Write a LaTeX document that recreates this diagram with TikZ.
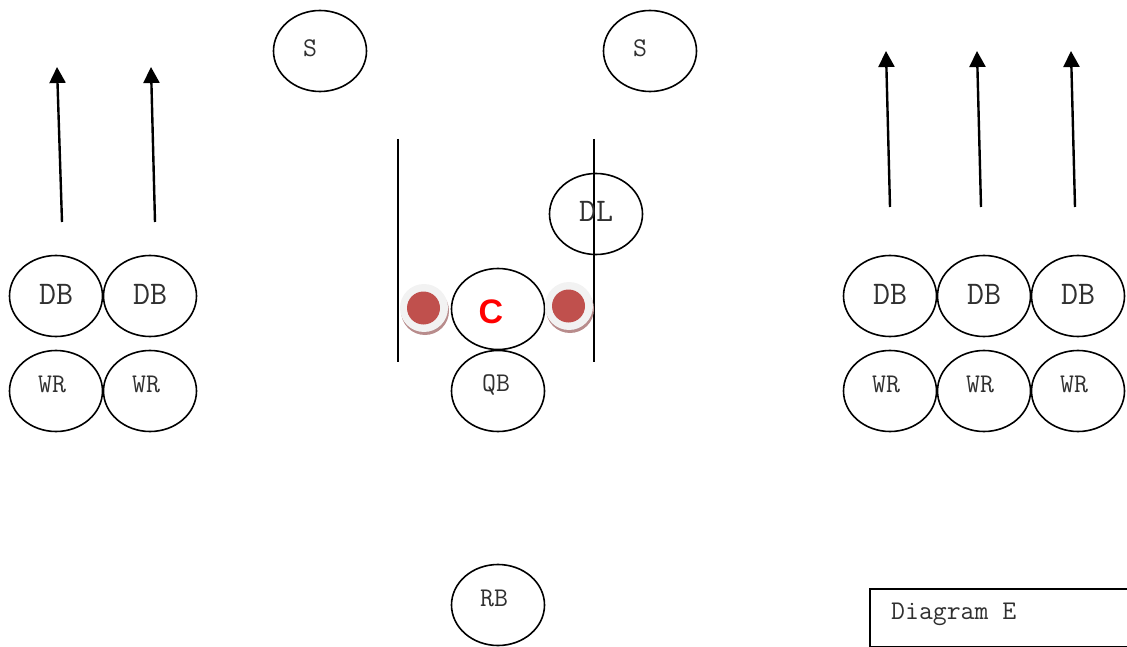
\documentclass[tikz,border=0pt]{standalone}
\usepackage{fontspec}
\setsansfont{Liberation Sans}
\usetikzlibrary{shapes.geometric,arrows.meta,calc}
\definecolor{txt}{HTML}{303030}
\definecolor{dotred}{HTML}{C0504D}
\definecolor{halo}{HTML}{F2F2F2}
\definecolor{dotshadow}{HTML}{B88C8C}
\tikzset{
  player/.style={draw=black,line width=1.6pt,ellipse,fill=white,
    minimum width=93pt,minimum height=81pt,inner sep=0pt},
  bigtxt/.style={font=\ttfamily\fontsize{33}{33}\selectfont,text=txt,inner sep=0pt},
  smalltxt/.style={font=\ttfamily\fontsize{27}{27}\selectfont,text=txt,inner sep=0pt},
  route/.style={line width=2.4pt,-{Triangle[length=16pt,width=16pt]}},
  gap/.style={line width=1.5pt},
}
\begin{document}
\begin{tikzpicture}[x=1pt,y=-1pt]
\useasboundingbox (0,0) rectangle (1127,647);
\clip (0,0) rectangle (1127,647);

% left side: two defensive backs over two receivers
\node[player,label={[bigtxt,yshift=2pt]center:DB}] (dbl1) at (56,296) {};
\node[player,label={[bigtxt,yshift=2pt]center:DB}] (dbl2) at (150,296) {};
\node[player,label={[smalltxt,xshift=-4pt,yshift=7pt]center:WR}] (wrl1) at (56,391) {};
\node[player,label={[smalltxt,xshift=-4pt,yshift=7pt]center:WR}] (wrl2) at (150,391) {};

% right side: three defensive backs over three receivers
\foreach \i/\x in {1/890,2/984,3/1078}{
  \node[player,label={[bigtxt,yshift=2pt]center:DB}] (dbr\i) at (\x,296) {};
  \node[player,label={[smalltxt,xshift=-4pt,yshift=7pt]center:WR}] (wrr\i) at (\x,391) {};
}

% safeties
\node[player,label={[smalltxt,xshift=-10pt,yshift=3pt]center:S}] (s1) at (320,51) {};
\node[player,label={[smalltxt,xshift=-10pt,yshift=3pt]center:S}] (s2) at (650,51) {};

% interior
\node[player,label={[font=\sffamily\bfseries\fontsize{34}{34}\selectfont,text=red,inner sep=0pt,xshift=-7pt,yshift=-3pt]center:C}] (c) at (498,309) {};
\node[player,label={[smalltxt,xshift=-2pt,yshift=6pt]center:QB}] (qb) at (498,391) {};
\node[player,label={[smalltxt,xshift=-4pt,yshift=7pt]center:RB}] (rb) at (498,605) {};
\node[player] (dl) at (596,214) {};

% gap markers
\coordinate (gl1) at (398,139);
\coordinate (gl2) at (398,362);
\coordinate (gr1) at (594,139);
\coordinate (gr2) at (594,362);
\draw[gap] (gl1) -- (gl2);
\draw[gap] (gr1) -- (gr2);
\node[bigtxt] (dltext) at (596,211) {DL};

% guard dots beside the center
\foreach \n/\x/\y in {gdl/424/308,gdr/569/306}{
  \fill[dotshadow] (\x+1,\y+3) circle[radius=24];
  \fill[halo] (\x,\y) circle[radius=24];
  \node[circle,fill=dotred,minimum size=33pt,inner sep=0pt] (\n) at (\x-0.5,\y) {};
}

% vertical routes
\coordinate (al1) at (62,222);   \coordinate (bl1) at (57,67);
\coordinate (al2) at (155,222);  \coordinate (bl2) at (151,67);
\coordinate (ar1) at (890,207);  \coordinate (br1) at (886,51);
\coordinate (ar2) at (981,207);  \coordinate (br2) at (977,51);
\coordinate (ar3) at (1075,207); \coordinate (br3) at (1071,51);
\foreach \k in {l1,l2,r1,r2,r3}{
  \draw[route] (a\k) -- (b\k);
}

% caption box
\node[draw=black,line width=1.5pt,anchor=north west,minimum width=270pt,
  minimum height=58pt,inner sep=0pt,
  label={[smalltxt,anchor=west,xshift=22pt,yshift=3pt]west:Diagram E}] (caption) at (869,588) {};
\end{tikzpicture}
\end{document}
